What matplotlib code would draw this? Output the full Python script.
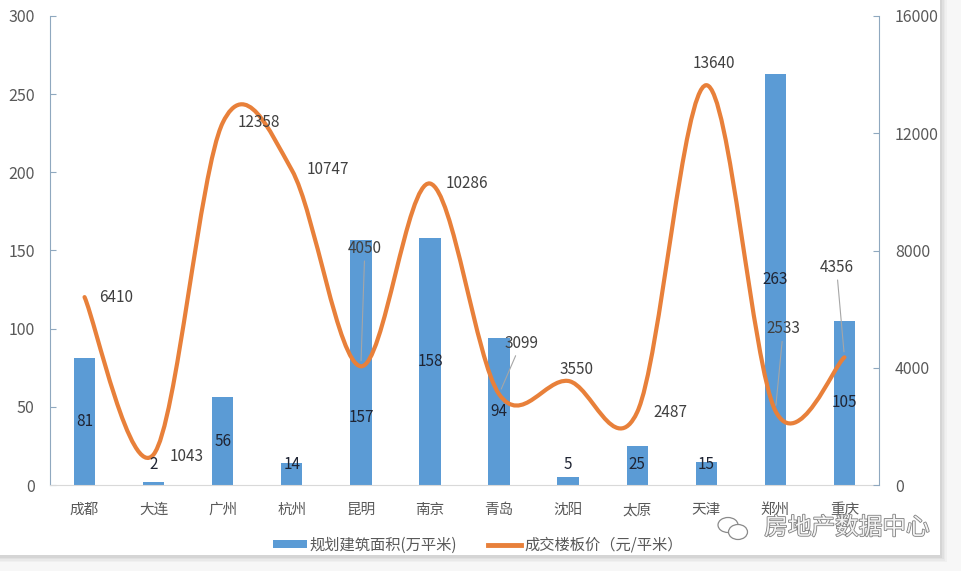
import numpy as np
import matplotlib
matplotlib.use("Agg")
import matplotlib.pyplot as plt
from matplotlib.path import Path
from matplotlib.patches import PathPatch, Rectangle, Ellipse
from matplotlib.lines import Line2D
import matplotlib.patheffects as pe

plt.rcParams['font.family'] = ['Noto Sans CJK SC', 'DejaVu Sans']

# ---- data ----
cities = ["成都", "大连", "广州", "杭州", "昆明", "南京", "青岛", "沈阳", "太原", "天津", "郑州", "重庆"]
area = [81, 2, 56, 14, 157, 158, 94, 5, 25, 15, 263, 105]          # 规划建筑面积(万平米)
price = [6410, 1043, 12358, 10747, 4050, 10286, 3099, 3550, 2487, 13640, 2533, 4356]  # 成交楼板价
left_ticks = [0, 50, 100, 150, 200, 250, 300]
right_ticks = [0, 4000, 8000, 12000, 16000]
area_name = "规划建筑面积(万平米)"
price_name = "成交楼板价（元/平米）"
brand = "房地产数据中心"

# ---- styling / layout ----
BAR_C = "#5B9BD5"
LINE_C = "#E8803A"
TXT = "#595959"
W, H = 962, 571

fig = plt.figure(figsize=(W / 100, H / 100), dpi=100)
fig.patch.set_facecolor("#f7f7f7")

# chart card with soft shadow on right/bottom
for k, a in enumerate([0.05, 0.06, 0.08, 0.10]):
    off = 7 - 1.5 * k
    fig.add_artist(Rectangle((0, (H - 555 - off) / H), (940 + off) / W, (555 + off) / H,
                             transform=fig.transFigure, facecolor="#7a7a7a", alpha=a,
                             edgecolor="none", zorder=-3))
fig.add_artist(Rectangle((0, (H - 555) / H), 940 / W, 555 / H, transform=fig.transFigure,
                         facecolor="white", edgecolor="none", zorder=-2))

x0, x1, ytop, ybot = 50, 879, 16, 485
ax = fig.add_axes([x0 / W, (H - ybot) / H, (x1 - x0) / W, (ybot - ytop) / H])
ax.set_facecolor("none")
ax2 = ax.twinx()
ax2.set_facecolor("none")

n = len(cities)
x = np.arange(n)
ax.bar(x, area, width=0.31, color=BAR_C, zorder=2)
ax.set_xlim(-0.5, n - 0.5)
ax.set_ylim(0, 300)
ax2.set_ylim(0, 16000)
ax.set_yticks(left_ticks)
ax2.set_yticks(right_ticks)
ax.set_xticks(x)
ax.set_xticklabels(cities)

for a_ in (ax, ax2):
    for s in a_.spines.values():
        s.set_visible(False)
ax.spines['left'].set_visible(True)
ax.spines['left'].set_color("#8FA8BF")
ax2.spines['right'].set_visible(True)
ax2.spines['right'].set_color("#8FA8BF")
ax.spines['bottom'].set_visible(True)
ax.spines['bottom'].set_color("#D9D9D9")

ax.tick_params(axis='y', direction='in', length=4, color="#8FA8BF", labelsize=11.5,
               labelcolor=TXT, pad=11)
ax2.tick_params(axis='y', direction='in', length=4, color="#8FA8BF", labelsize=11.5,
                labelcolor=TXT, pad=11.5)
ax.tick_params(axis='x', length=0, labelsize=10.5, labelcolor=TXT, pad=13)

# smoothed price line (cubic Bezier, Catmull-Rom control points)
pts = np.column_stack([x, price]).astype(float)
verts = [pts[0]]
codes = [Path.MOVETO]
for i in range(n - 1):
    p0 = pts[max(i - 1, 0)]
    p1 = pts[i]
    p2 = pts[i + 1]
    p3 = pts[min(i + 2, n - 1)]
    c1 = p1 + (p2 - p0) / 6.0
    c2 = p2 - (p3 - p1) / 6.0
    verts += [c1, c2, p2]
    codes += [Path.CURVE4] * 3
ax2.add_patch(PathPatch(Path(verts, codes), fill=False, edgecolor=LINE_C, lw=3.0,
                        capstyle='round', joinstyle='round', zorder=3))

# bar value labels
bar_label_y = {"昆明": 43}
for i, v in enumerate(area):
    yy = bar_label_y.get(cities[i], max(v / 2, 12.8))
    ax2.text(i, yy, str(v), transform=ax.transData, ha='center', va='center',
             fontsize=11, color="#1f2433", zorder=4)

# price labels: (dx, dy) in pixels, alignment, leader line
price_label = {
    "成都": (15, 0, 'left', False),
    "大连": (16, -2, 'left', False),
    "广州": (15, 0, 'left', False),
    "杭州": (15, 0, 'left', False),
    "昆明": (4, 118, 'center', True),
    "南京": (16, 0, 'left', False),
    "青岛": (22, 51, 'center', True),
    "沈阳": (8, 11, 'center', False),
    "太原": (16, 0, 'left', False),
    "天津": (8, 22, 'center', False),
    "郑州": (8, 82, 'center', True),
    "重庆": (-8, 90, 'center', True),
}
for i, v in enumerate(price):
    dx, dy, ha, lead = price_label[cities[i]]
    kw = {}
    if lead:
        kw['arrowprops'] = dict(arrowstyle='-', color="#A6A6A6", lw=0.8,
                                shrinkA=1, shrinkB=4)
    ax2.annotate(str(v), xy=(i, v), xytext=(dx, dy), textcoords='offset pixels',
                 ha=ha, va='center', fontsize=11, color="#404040", zorder=5, **kw)

# legend
handles = [Rectangle((0, 0), 1, 1, facecolor=BAR_C, edgecolor='none'),
           Line2D([], [], color=LINE_C, lw=3.5)]
leg = fig.legend(handles, [area_name, price_name], loc='center', ncol=2, frameon=False,
                 bbox_to_anchor=(478 / W, 1 - 545 / H), fontsize=11, handlelength=2.2,
                 handleheight=0.5, handletextpad=0.2, columnspacing=2.0)
for t in leg.get_texts():
    t.set_color(TXT)

# brand mark: chat-bubble icon and name
icx, icy = 732, 528
fig.add_artist(Ellipse(((icx - 4) / W, 1 - (icy - 3) / H), 20 / W, 15 / H,
                       transform=fig.transFigure, fill=False, ec="#8a8a8a", lw=0.9))
fig.add_artist(Ellipse(((icx + 6) / W, 1 - (icy + 4) / H), 19 / W, 15 / H,
                       transform=fig.transFigure, fill=True, fc="white", ec="#8a8a8a", lw=0.9))
fig.text(847 / W, 1 - 528 / H, brand, fontsize=17, color="#f4f4f4", ha='center', va='center',
         path_effects=[pe.withStroke(linewidth=1.2, foreground="#808080")])

fig.savefig("out.png", dpi=100, facecolor=fig.get_facecolor())
